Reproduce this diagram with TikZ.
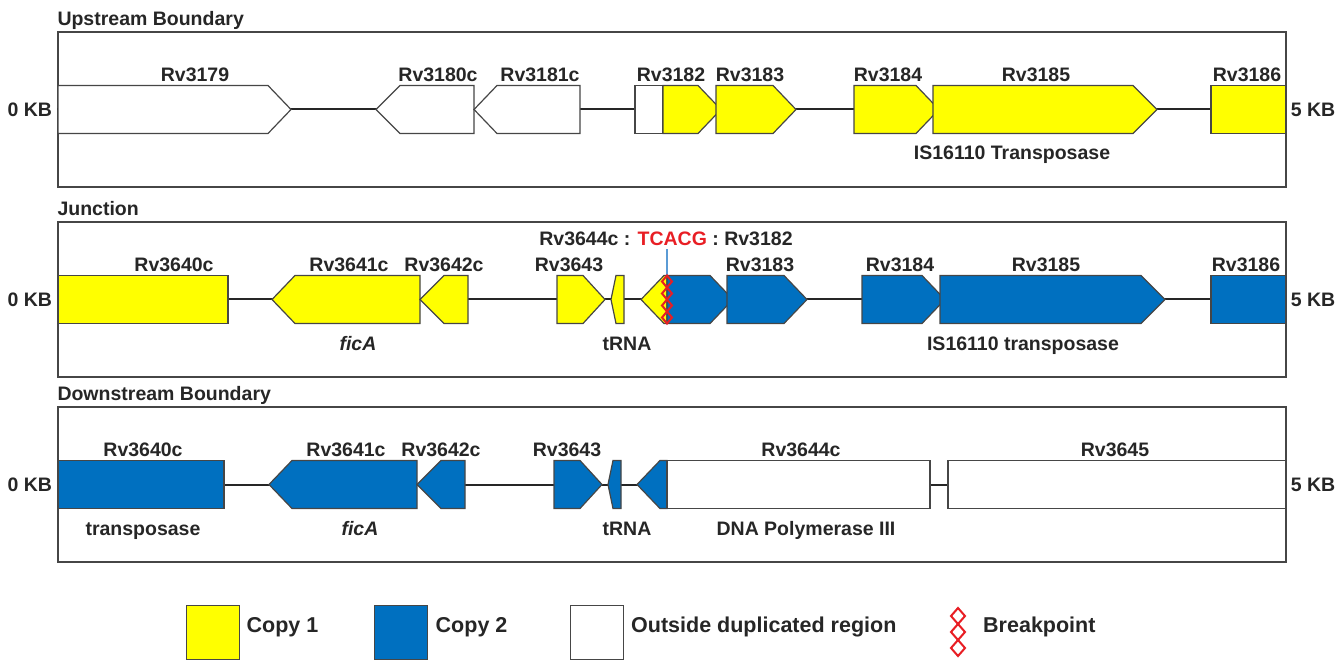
\documentclass[tikz,border=0pt]{standalone}
\usepackage{fontspec}
\setmainfont{Liberation Sans}
\usetikzlibrary{positioning}
\definecolor{copyOne}{RGB}{255,255,0}
\definecolor{copyTwo}{RGB}{0,112,192}
\definecolor{outline}{RGB}{70,70,70}
\definecolor{breakRed}{RGB}{232,30,36}
\definecolor{noteBlue}{RGB}{91,155,213}
\colorlet{ink}{black!85}
\tikzset{
  panel/.style={draw=outline, line width=1.4pt, minimum width=1228pt, minimum height=155pt, inner sep=0pt},
  backbone/.style={draw=ink, line width=2pt},
  gene/.style={draw=outline, line width=1.2pt, line join=miter},
  onegene/.style={gene, fill=copyOne},
  twogene/.style={gene, fill=copyTwo},
  outgene/.style={gene, fill=white},
  lbl/.style={font=\fontsize{19.5}{23}\selectfont\bfseries, text=ink, anchor=base, inner sep=0pt},
  paneltitle/.style={lbl, anchor=base west},
  kb/.style={lbl, anchor=center},
  breakmark/.style={draw=breakRed, line width=2pt},
  keybox/.style={draw=outline, line width=1pt, minimum width=53pt, minimum height=54pt, inner sep=0pt},
  keytext/.style={font=\fontsize{21.5}{25}\selectfont\bfseries, text=ink, inner sep=0pt}
}
% genes: style, left, right, row, tip length
\newcommand{\GeneFwd}[5]{%
  \draw[#1] (#2,#4-24) -- (#3-#5,#4-24) -- (#3,#4) -- (#3-#5,#4+24) -- (#2,#4+24) -- cycle;
}
\newcommand{\GeneRev}[5]{%
  \draw[#1] (#2,#4) -- (#2+#5,#4-24) -- (#3,#4-24) -- (#3,#4+24) -- (#2+#5,#4+24) -- cycle;
}
\newcommand{\GeneBox}[4]{%
  \draw[#1] (#2,#4-24) rectangle (#3,#4+24);
}
% breakpoint chain: x, top, count, step, half width
\newcommand{\BreakMark}[5]{%
  \foreach \k in {1,...,#3}
    \draw[breakmark] (#1,{#2+(\k-1)*#4}) -- ({#1+#5},{#2+(\k-0.5)*#4}) -- (#1,{#2+\k*#4}) -- ({#1-#5},{#2+(\k-0.5)*#4}) -- cycle;
}

\begin{document}
\begin{tikzpicture}[x=1pt,y=-1pt]
  \useasboundingbox (0,0) rectangle (1341,660);

  \node[panel] (up) at (672,109.5) {};
  \node[panel] (junc) at (672,299.5) {};
  \node[panel] (down) at (672,484.5) {};
  \node[paneltitle] (uptitle) at ([yshift=6pt]up.north west) {Upstream Boundary};
  \node[paneltitle] (junctitle) at ([yshift=6pt]junc.north west) {Junction};
  \node[paneltitle] (downtitle) at ([yshift=6pt]down.north west) {Downstream Boundary};

  \draw[backbone] (up.west) -- (up.east);
  \draw[backbone] (junc.west) -- (junc.east);
  \draw[backbone] (down.west) -- (down.east);

  \node[kb, left=5pt of up.west] (upzero) {0 KB};
  \node[kb, right=4pt of up.east] (upfive) {5 KB};
  \node[kb, left=5pt of junc.west] (junczero) {0 KB};
  \node[kb, right=4pt of junc.east] (juncfive) {5 KB};
  \node[kb, left=5pt of down.west] (downzero) {0 KB};
  \node[kb, right=4pt of down.east] (downfive) {5 KB};

  % upstream boundary
  \GeneFwd{outgene}{58}{291}{109.5}{23}
  \GeneRev{outgene}{376}{474}{109.5}{24}
  \GeneRev{outgene}{474}{580}{109.5}{23}
  \GeneBox{outgene}{635}{663}{109.5}
  \GeneFwd{onegene}{663}{721}{109.5}{23}
  \GeneFwd{onegene}{716}{796}{109.5}{23}
  \GeneFwd{onegene}{854}{939}{109.5}{23}
  \GeneFwd{onegene}{933}{1157}{109.5}{24}
  \GeneBox{onegene}{1211}{1286}{109.5}
  \node[lbl] (u3179) at (195,81.5) {Rv3179};
  \node[lbl] (u3180) at (438,81.5) {Rv3180c};
  \node[lbl] (u3181) at (540,81.5) {Rv3181c};
  \node[lbl] (u3182) at (671,81.5) {Rv3182};
  \node[lbl] (u3183) at (750,81.5) {Rv3183};
  \node[lbl] (u3184) at (888,81.5) {Rv3184};
  \node[lbl] (u3185) at (1036,81.5) {Rv3185};
  \node[lbl] (u3186) at (1247,81.5) {Rv3186};
  \node[lbl] (uis) at (1012,160) {IS16110 Transposase};

  % junction
  \GeneBox{onegene}{58}{228}{299.5}
  \GeneRev{onegene}{272}{420}{299.5}{23}
  \GeneRev{onegene}{420}{468}{299.5}{24}
  \GeneFwd{onegene}{557}{605}{299.5}{22}
  \GeneRev{onegene}{611}{624}{299.5}{5}
  \GeneRev{onegene}{641}{667}{299.5}{23}
  \GeneFwd{twogene}{667}{733}{299.5}{23}
  \GeneFwd{twogene}{727}{807}{299.5}{23}
  \GeneFwd{twogene}{862}{945}{299.5}{23}
  \GeneFwd{twogene}{940}{1165}{299.5}{24}
  \GeneBox{twogene}{1211}{1286}{299.5}
  \node[lbl] (j3640) at (174,271.5) {Rv3640c};
  \node[lbl] (j3641) at (349,271.5) {Rv3641c};
  \node[lbl] (j3642) at (444,271.5) {Rv3642c};
  \node[lbl] (j3643) at (569,271.5) {Rv3643};
  \node[lbl] (j3183) at (760,271.5) {Rv3183};
  \node[lbl] (j3184) at (900,271.5) {Rv3184};
  \node[lbl] (j3185) at (1046,271.5) {Rv3185};
  \node[lbl] (j3186) at (1246,271.5) {Rv3186};
  \node[lbl] (jfic) at (358,350) {\itshape ficA};
  \node[lbl] (jtrna) at (627,350) {tRNA};
  \node[lbl] (jis) at (1023,350) {IS16110 transposase};
  \node[lbl] (bpnote) at (666,246) {Rv3644c : \textcolor{breakRed}{TCACG} : Rv3182};
  \coordinate (bptop) at (667,275.5);
  \draw[noteBlue, line width=1.3pt] ([yshift=-3pt]bpnote.south -| bptop) -- (bptop);
  \BreakMark{667}{275.5}{4}{12}{5}

  % downstream boundary
  \GeneBox{twogene}{58}{224}{484.5}
  \GeneRev{twogene}{269}{417}{484.5}{23}
  \GeneRev{twogene}{417}{465}{484.5}{24}
  \GeneFwd{twogene}{554}{602}{484.5}{22}
  \GeneRev{twogene}{608}{621}{484.5}{5}
  \GeneRev{twogene}{637}{667}{484.5}{23}
  \GeneBox{outgene}{667}{930}{484.5}
  \GeneBox{outgene}{948}{1286}{484.5}
  \node[lbl] (d3640) at (143,456.5) {Rv3640c};
  \node[lbl] (d3641) at (346,456.5) {Rv3641c};
  \node[lbl] (d3642) at (441,456.5) {Rv3642c};
  \node[lbl] (d3643) at (567,456.5) {Rv3643};
  \node[lbl] (d3644) at (801,456.5) {Rv3644c};
  \node[lbl] (d3645) at (1115,456.5) {Rv3645};
  \node[lbl] (dtrans) at (143,535) {transposase};
  \node[lbl] (dfic) at (360,535) {\itshape ficA};
  \node[lbl] (dtrna) at (627,535) {tRNA};
  \node[lbl] (dpol) at (806,535) {DNA Polymerase III};

  % legend
  \node[keybox, fill=copyOne] (keyone) at (212.5,632) {};
  \node[keytext, right=7pt of keyone, yshift=5pt] (keyonetxt) {Copy 1};
  \node[keybox, fill=copyTwo] (keytwo) at (400.5,632) {};
  \node[keytext, right=8pt of keytwo, yshift=5pt] (keytwotxt) {Copy 2};
  \node[keybox, fill=white] (keyout) at (597,632) {};
  \node[keytext, right=7pt of keyout, yshift=5pt] (keyouttxt) {Outside duplicated region};
  \coordinate (keybreak) at (958,632);
  \BreakMark{958}{608}{3}{16}{7}
  \node[keytext, right=25pt of keybreak, yshift=5pt] (keybreaktxt) {Breakpoint};
\end{tikzpicture}
\end{document}
